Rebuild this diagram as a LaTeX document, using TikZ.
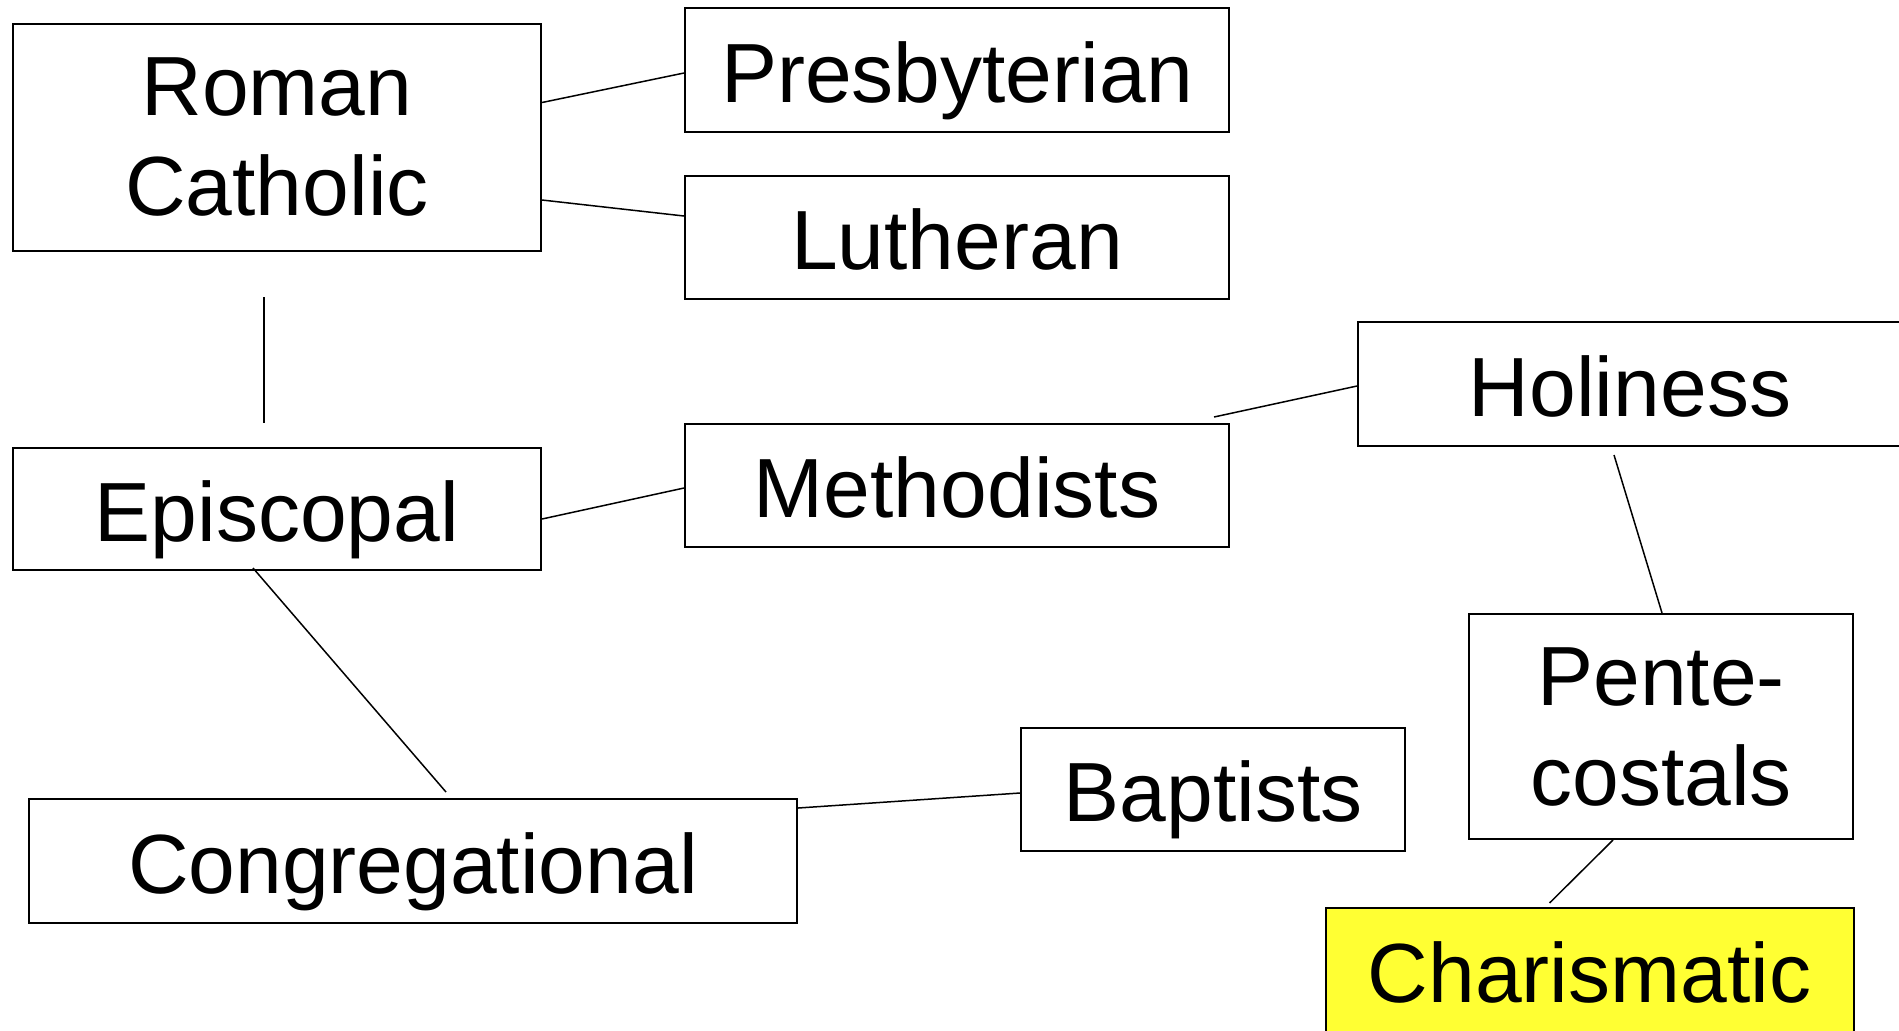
\documentclass[tikz,border=0pt]{standalone}
\usepackage{fontspec}
\setmainfont{Liberation Sans}
\usepackage{xcolor}
\usetikzlibrary{calc}

\definecolor{charyellow}{RGB}{255,255,51}

\begin{document}
\begin{tikzpicture}[
    x=0.5bp, y=-0.5bp,
    church/.style={rectangle, draw, line width=1bp, inner sep=0pt,
        font=\fontsize{42bp}{50bp}\selectfont, text height=37bp, text depth=5bp},
    church2/.style={rectangle, draw, line width=1bp, inner sep=0pt,
        font=\fontsize{42bp}{50bp}\selectfont, align=center},
    link/.style={line width=0.75bp}
]
\useasboundingbox (0,0) rectangle (1899,1030);

\node[church2, minimum width=264bp, minimum height=113.5bp] (rc) at (277,137.5) {Roman\\Catholic};
\node[church, minimum width=272bp, minimum height=62bp] (pres) at (957,70) {Presbyterian};
\node[church, minimum width=272bp, minimum height=61.5bp] (luth) at (957,237.5) {Lutheran};
\node[church, minimum width=264bp, minimum height=61bp] (epi) at (277,509) {Episcopal};
\node[church, minimum width=272bp, minimum height=61.5bp] (meth) at (957,485.5) {Methodists};
\node[church, minimum width=272bp, minimum height=62bp] (hol) at (1630,384) {Holiness};
\node[church2, minimum width=192bp, minimum height=112.5bp] (pent) at (1661,726.5) {Pente-\\costals};
\node[church, minimum width=192bp, minimum height=61.5bp] (bap) at (1213,789.5) {Baptists};
\node[church, minimum width=384bp, minimum height=62bp] (cong) at (413,861) {Congregational};
\node[church, fill=charyellow, minimum width=264bp, minimum height=62bp] (char) at (1589.5,970) {Charismatic};

\draw[link] ($(rc.east)+(0,-35)$) -- ($(pres.west)+(0,3)$);
\draw[link] ($(rc.east)+(0,62.5)$) -- ($(luth.west)+(0,-21.5)$);
\draw[link] ($(rc.south)+(-13,45)$) -- ($(epi.north)+(-13,-24)$);
\draw[link] ($(epi.east)+(0,10)$) -- ($(meth.west)+(0,2.5)$);
\draw[link] ($(meth.north east)+(-16,-6)$) -- ($(hol.west)+(0,2)$);
\draw[link] ($(hol.south)+(-16,8)$) -- ($(pent.north)+(1,0)$);
\draw[link] ($(epi.south)+(-24,-3)$) -- ($(cong.north)+(33,-6)$);
\draw[link] ($(cong.east)+(0,-53)$) -- ($(bap.west)+(0,3.5)$);
\draw[link] ($(pent.south)+(-48,0)$) -- ($(char.north)+(-40,-4)$);

\end{tikzpicture}
\end{document}
